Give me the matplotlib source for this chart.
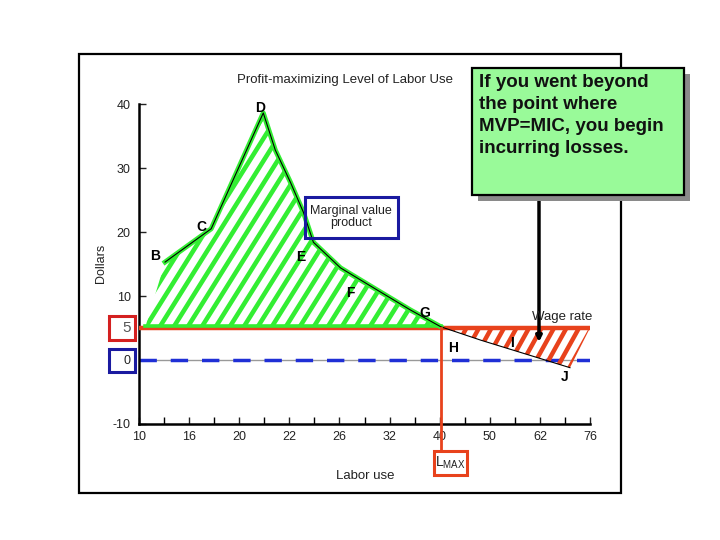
import numpy as np
import matplotlib
matplotlib.use("Agg")
import matplotlib.pyplot as plt
from matplotlib.patches import Polygon, Rectangle
from matplotlib import transforms

plt.rcParams['font.family'] = ['Liberation Sans', 'DejaVu Sans']
plt.rcParams['axes.unicode_minus'] = False

# labour use levels (shown as evenly spaced categories)
labor_labels = ['10', '16', '20', '22', '26', '32', '40', '50', '62', '76']
labor_pos = np.arange(len(labor_labels))

# marginal value product curve, B .. J (x in category position, y in dollars)
mvp_x = [0.52, 1.44, 2.48, 2.72, 3.02, 3.28, 3.48, 4.02, 4.76, 5.42, 6.02, 6.82, 7.98, 8.6]
mvp_y = [15.3, 20.5, 38.6, 32.8, 27.8, 23.1, 18.4, 14.4, 10.9, 7.8, 5.2, 3.1, 0.3, -1.2]
g_index = 10          # point G, where MVP meets the wage
wage = 5
fill_start = 0.12     # left end of profit area on the wage line

point_names = ['B', 'C', 'D', 'E', 'F', 'G', 'H', 'I', 'J']
point_x = [0.32, 1.24, 2.42, 3.22, 4.21, 5.7, 6.27, 7.45, 8.5]
point_y = [16.3, 20.8, 39.3, 16.1, 10.4, 7.4, 1.9, 2.7, -2.6]

GREEN = '#33ee33'
RED = '#e8421c'
BLUE = '#1f2fd6'
NAVY = '#1a1aa0'

fig = plt.figure(figsize=(7.2, 5.4), dpi=100)
W, H = 720, 540


def fx(px):
    return px / W


def fy(py):
    return 1 - py / H


ax = fig.add_axes([fx(139), fy(424), (590 - 139) / W, (424 - 104) / H])
ax.set_xlim(0, 9)
ax.set_ylim(-10, 40)

for s in ['top', 'right']:
    ax.spines[s].set_visible(False)
for s in ['left', 'bottom']:
    ax.spines[s].set_linewidth(1.8)

ax.set_xticks(labor_pos)
ax.set_xticklabels(labor_labels)
ax.set_xticks(np.arange(0.5, 9, 1), minor=True)
ax.set_yticks([-10, 10, 20, 30, 40])
ax.tick_params(direction='in', length=5, width=1, labelsize=9, colors='#222222')
ax.tick_params(axis='x', which='minor', direction='in', length=5, width=1)
ax.tick_params(axis='x', pad=5)
ax.tick_params(axis='y', pad=6)


def stripes(xs, ys, color, spacing_px, angle, lw):
    poly = Polygon(np.column_stack([xs, ys]), closed=True, facecolor='none',
                   edgecolor='none')
    ax.add_patch(poly)
    sx = 451 / 9.0      # pixels per x unit
    sy = 320 / 50.0     # pixels per y unit
    slope = np.tan(np.radians(angle)) * sx / sy
    span = 50 / slope
    for x0 in np.arange(min(xs) - span, max(xs) + 0.5, spacing_px / sx):
        ln, = ax.plot([x0, x0 + span], [-10, 40], color=color, lw=lw,
                      solid_capstyle='butt', zorder=2)
        ln.set_clip_path(poly)


# zero line
ax.axhline(0, color='#999999', lw=1, zorder=1)
ax.plot([0, 9], [0, 0], color=BLUE, lw=2.5, dashes=(5, 4), zorder=2)

# profit area (green)
gx = [fill_start] + mvp_x[:g_index + 1] + [mvp_x[g_index]]
gy = [wage] + mvp_y[:g_index + 1] + [wage]
stripes(gx, gy, GREEN, 14, 58, 3.3)

# loss area (red)
rx = mvp_x[g_index:] + [9]
ry = mvp_y[g_index:] + [wage]
stripes(rx, ry, RED, 12.5, 61, 3.2)

# wage line
ax.plot([0, 9], [wage, wage], color=RED, lw=3.2, zorder=3, solid_capstyle='butt')
up = transforms.offset_copy(ax.transData, fig, y=2, units='dots')
ax.plot([fill_start, mvp_x[g_index]], [wage, wage], color=GREEN, lw=2.6,
        zorder=4, transform=up)

# MVP curve
ax.plot(mvp_x, mvp_y, color='black', lw=0.8, zorder=5)
ax.plot(mvp_x[:g_index + 1], mvp_y[:g_index + 1], color=GREEN, lw=3.6,
        zorder=4, solid_joinstyle='round')

# L max drop line
ax.plot([mvp_x[g_index], mvp_x[g_index]], [wage, -14.0], color=RED, lw=2,
        zorder=5, clip_on=False)

for name, x, y in zip(point_names, point_x, point_y):
    ax.text(x, y, name, fontsize=10, fontweight='bold', ha='center',
            va='center', zorder=6)

# figure texts
fig.text(fx(345), fy(80), 'Profit-maximizing Level of Labor Use', fontsize=9.5,
         ha='center', va='center', color='#222222')
fig.text(fx(101), fy(263), 'Dollars', fontsize=9, rotation=90, ha='center',
         va='center', color='#222222')
fig.text(fx(365), fy(476), 'Labor use', fontsize=9.5, ha='center', va='center',
         color='#222222')
fig.text(fx(562), fy(317), 'Wage rate', fontsize=9.5, ha='center', va='center',
         color='#222222')
fig.text(fx(351), fy(217), 'Marginal value\nproduct', fontsize=9, ha='center',
         va='center', color='#222222', linespacing=1.0)
fig.text(fx(127), fy(328), '5', fontsize=11, ha='center', va='center',
         color='#555555')
fig.text(fx(127), fy(361), '0', fontsize=9, ha='center', va='center',
         color='#222222')
fig.text(fx(450), fy(463), r'$\mathregular{L_{MAX}}$', fontsize=10,
         ha='center', va='center', color='#222222')


def box(x0, y0, x1, y1, ec, lw, fc='none', z=1):
    r = Rectangle((fx(x0), fy(y1)), fx(x1 - x0), (y1 - y0) / H,
                  transform=fig.transFigure, fill=fc != 'none', facecolor=fc,
                  edgecolor=ec, lw=lw, zorder=z)
    fig.add_artist(r)


# outer frame
box(79, 54, 621, 493, 'black', 1.6)
box(305, 197, 398, 238, NAVY, 2.2)
box(109, 316, 135, 340, '#d42020', 2.2)
box(109, 349, 135, 372, NAVY, 2.2)
box(434, 451, 467, 475, RED, 2.2)

# callout
box(478, 74, 690, 201, 'none', 0, fc='#8a8a8a', z=5)
box(472, 68, 684, 195, 'black', 1.6, fc='#99fa99', z=6)
fig.text(fx(479), fy(74), 'If you went beyond\nthe point where\nMVP=MIC, you begin\nincurring losses.',
         fontsize=13.5, fontweight='bold', ha='left', va='top', linespacing=1.38,
         zorder=7, color='#111111')
ax.annotate('', xy=(fx(539), fy(342)), xytext=(fx(539), fy(195)),
            xycoords='figure fraction', textcoords='figure fraction',
            arrowprops=dict(arrowstyle='-|>', lw=2.5, color='black',
                            mutation_scale=8, shrinkA=0, shrinkB=0),
            zorder=6)

fig.savefig('out.png', dpi=100)
